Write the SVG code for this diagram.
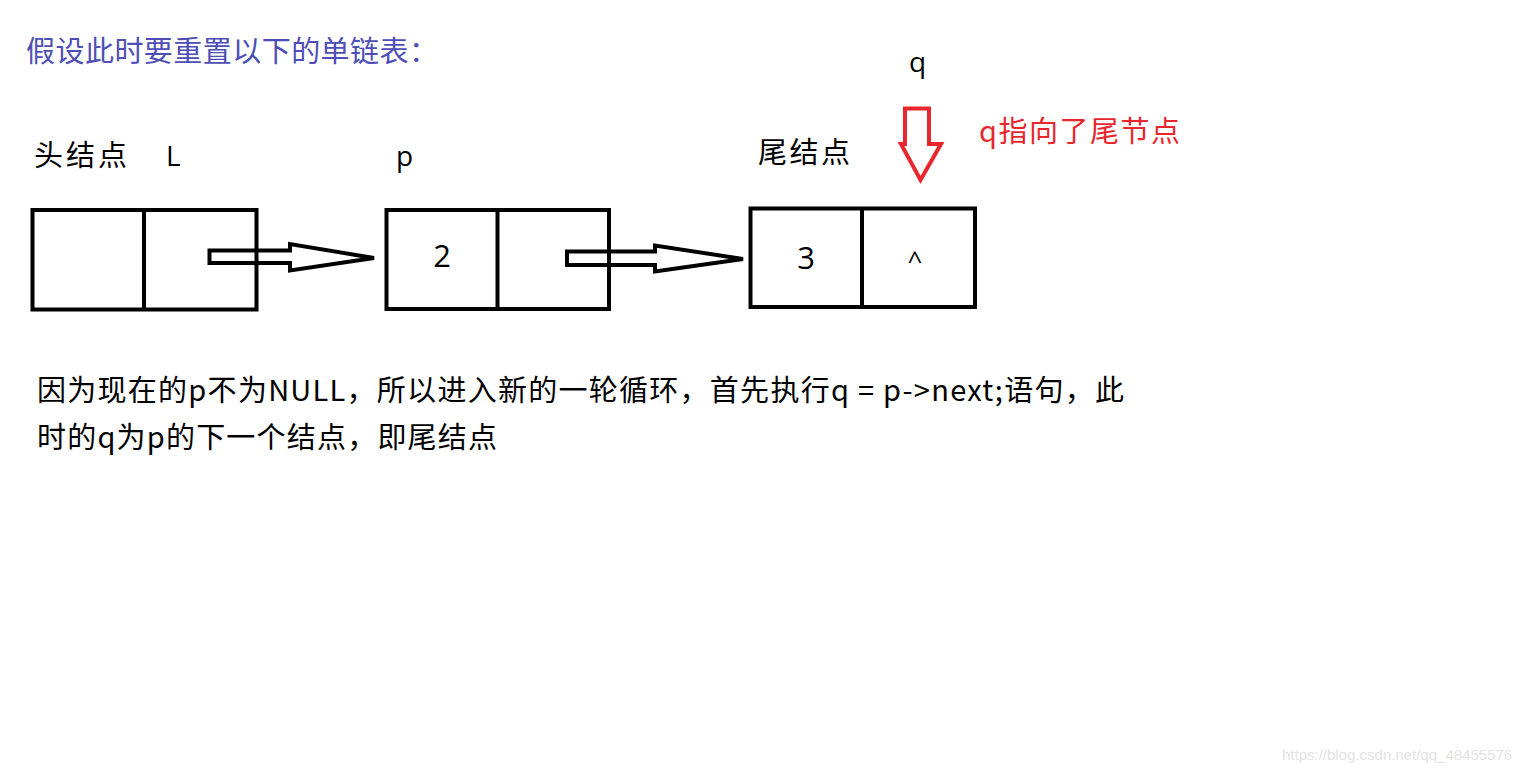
<svg xmlns="http://www.w3.org/2000/svg" width="1534" height="774" viewBox="0 0 1534 774">
<style>
.t{font-family:"Open Sans","Noto Sans CJK SC",sans-serif;font-size:28px;fill:#000}
.cn{font-family:"Noto Sans CJK SC","Open Sans",sans-serif;font-size:29px}
.box{fill:none;stroke:#000;stroke-width:4}
.arr{fill:none;stroke:#000;stroke-width:4;stroke-linejoin:miter}
</style>
<rect width="1534" height="774" fill="#fff"/>
<text id="title" class="cn" x="26" y="62" fill="#4E4EB6" textLength="412" lengthAdjust="spacing">假设此时要重置以下的单链表：</text>
<g id="labels">
<text class="cn" x="34" y="166" fill="#000" textLength="93" lengthAdjust="spacing">头结点</text>
<text class="t" x="166" y="166">L</text>
<text class="t" x="396" y="166">p</text>
<text class="cn" x="758" y="163" fill="#000" textLength="92" lengthAdjust="spacing">尾结点</text>
<text class="t" x="909" y="72">q</text>
</g>
<g id="node1">
<rect class="box" x="32.5" y="210" width="224" height="99.5"/>
<line class="box" x1="144" y1="210" x2="144" y2="309.5"/>
</g>
<g id="node2">
<rect class="box" x="386.5" y="210" width="222.5" height="99"/>
<line class="box" x1="497.5" y1="210" x2="497.5" y2="309"/>
<text class="t" x="442" y="267" text-anchor="middle" style="font-size:31px">2</text>
</g>
<g id="node3">
<rect class="box" x="750.5" y="208.5" width="224.5" height="98.5"/>
<line class="box" x1="862" y1="208.5" x2="862" y2="307"/>
<text class="t" x="806" y="269" text-anchor="middle" style="font-size:31px">3</text>
<text class="t" x="915" y="270" text-anchor="middle" style="font-size:26px">^</text>
</g>
<g id="connectors">
<polygon class="arr" points="209.5,250.5 290,250.5 290,244 374,258 290,270.5 290,263 209.5,263"/>
<polygon class="arr" points="567,251.5 655,251.5 655,245.5 743,259 655,271.5 655,265 567,265"/>
<polygon fill="none" stroke="#E8262D" stroke-width="4" points="905,108.5 929,108.5 929,144 941,144 920.5,180 901,144 905,144"/>
</g>
<text id="note" class="cn" x="979" y="142" fill="#E8262D" textLength="201" lengthAdjust="spacing">q指向了尾节点</text>
<g id="desc">
<text class="cn" x="37" y="401" fill="#000" textLength="1087" lengthAdjust="spacing">因为现在的p不为NULL，所以进入新的一轮循环，首先执行q = p-&gt;next;语句，此</text>
<text class="cn" x="37" y="448" fill="#000" textLength="460" lengthAdjust="spacing">时的q为p的下一个结点，即尾结点</text>
</g>
<text x="1282" y="760" style="font-family:'Liberation Sans',sans-serif;font-size:15px" fill="#e4e4e4">https://blog.csdn.net/qq_48455576</text>
</svg>
